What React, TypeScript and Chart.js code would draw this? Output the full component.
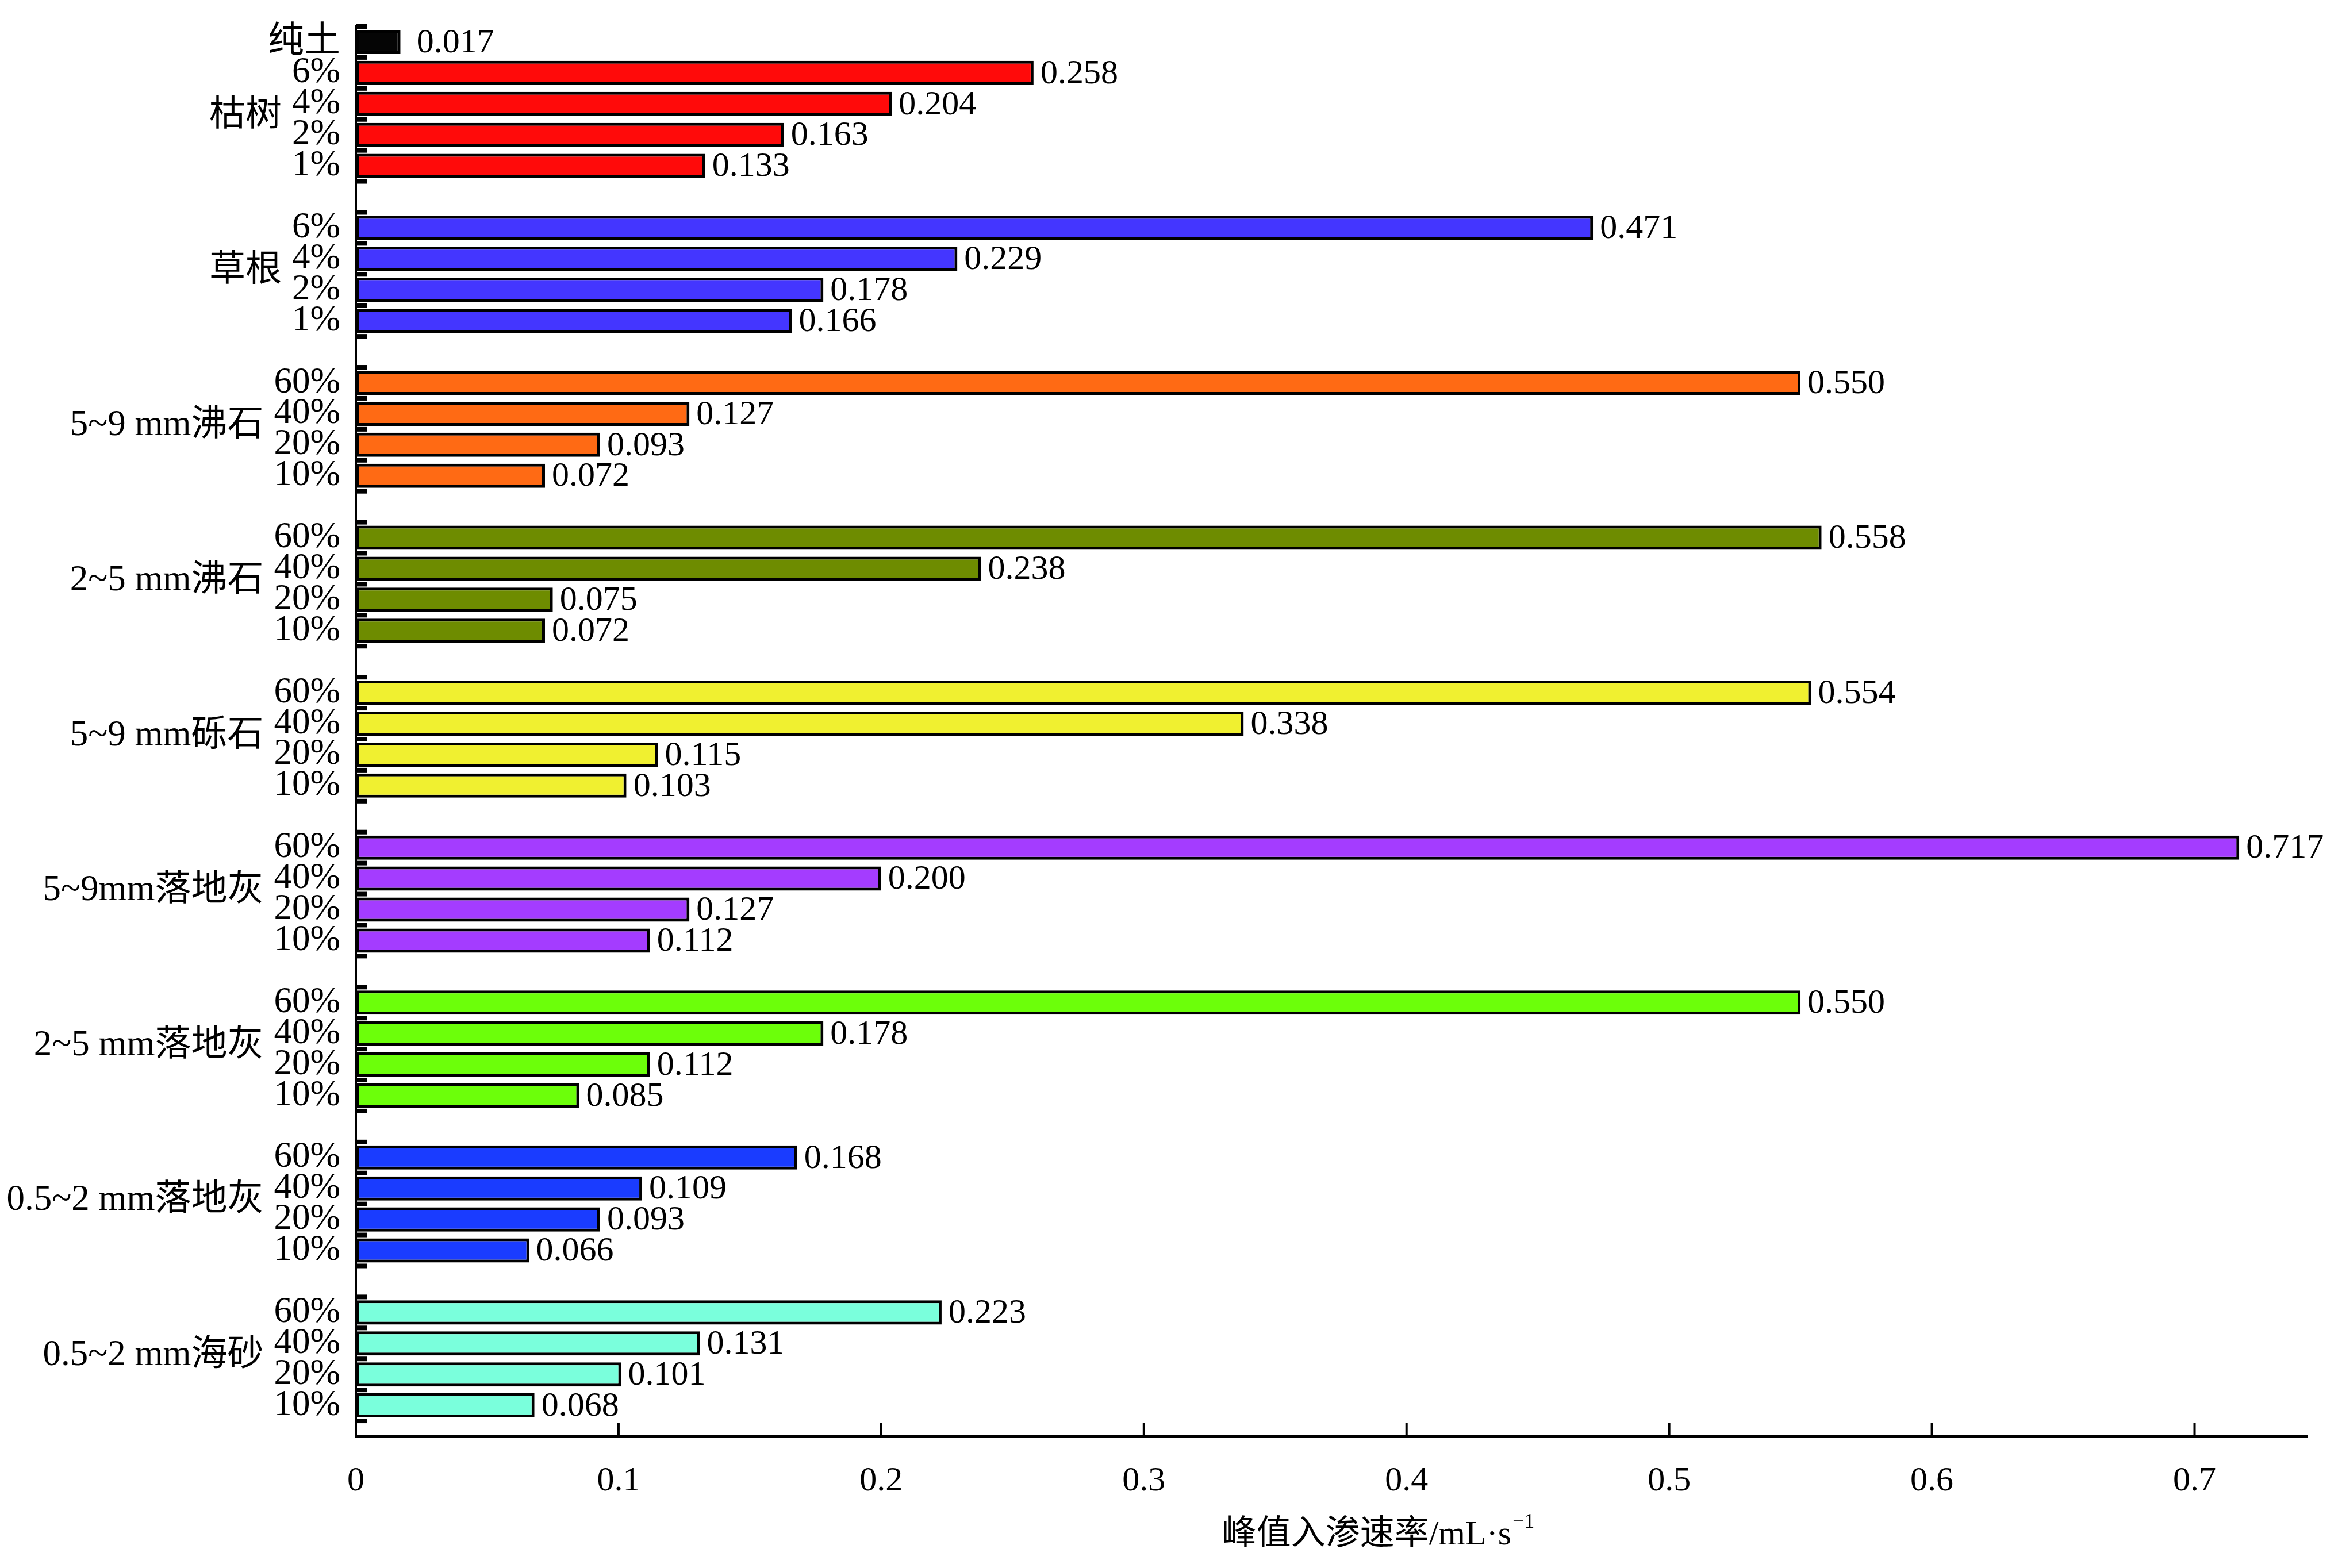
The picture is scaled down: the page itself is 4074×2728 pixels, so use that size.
import React, { useEffect, useRef } from "react";
import { Chart, registerables } from "chart.js";

Chart.register(...registerables);

// ---------- data ----------
const GROUP_NAMES = [
  "纯土",
  "枯树",
  "草根",
  "5~9 mm沸石",
  "2~5 mm沸石",
  "5~9 mm砾石",
  "5~9mm落地灰",
  "2~5 mm落地灰",
  "0.5~2 mm落地灰",
  "0.5~2 mm海砂",
];
const LEVELS_PURE = ["纯土"];
const LEVELS_ORGANIC = ["6%", "4%", "2%", "1%"];
const LEVELS_MINERAL = ["60%", "40%", "20%", "10%"];

const VALUES_PURE = [0.017];
const VALUES_KUSHU = [0.258, 0.204, 0.163, 0.133];
const VALUES_CAOGEN = [0.471, 0.229, 0.178, 0.166];
const VALUES_FEISHI_5_9 = [0.55, 0.127, 0.093, 0.072];
const VALUES_FEISHI_2_5 = [0.558, 0.238, 0.075, 0.072];
const VALUES_LISHI_5_9 = [0.554, 0.338, 0.115, 0.103];
const VALUES_LUODIHUI_5_9 = [0.717, 0.2, 0.127, 0.112];
const VALUES_LUODIHUI_2_5 = [0.55, 0.178, 0.112, 0.085];
const VALUES_LUODIHUI_05_2 = [0.168, 0.109, 0.093, 0.066];
const VALUES_HAISHA_05_2 = [0.223, 0.131, 0.101, 0.068];

const GROUP_COLORS = [
  "#050505",
  "#FF0A0A",
  "#4436FF",
  "#FF6A14",
  "#6E8C00",
  "#F0F030",
  "#A43CFF",
  "#6CFF0A",
  "#1A3CFF",
  "#7AFFDC",
];

const X_TICK_VALUES = [0, 0.1, 0.2, 0.3, 0.4, 0.5, 0.6, 0.7];
const X_TICK_LABELS = ["0", "0.1", "0.2", "0.3", "0.4", "0.5", "0.6", "0.7"];
const X_TITLE = "峰值入渗速率/mL·s";
const X_TITLE_SUP = "−1";

// ---------- derived ----------
const GROUP_LEVELS = [
  LEVELS_PURE,
  LEVELS_ORGANIC,
  LEVELS_ORGANIC,
  LEVELS_MINERAL,
  LEVELS_MINERAL,
  LEVELS_MINERAL,
  LEVELS_MINERAL,
  LEVELS_MINERAL,
  LEVELS_MINERAL,
  LEVELS_MINERAL,
];
const GROUP_VALUES = [
  VALUES_PURE,
  VALUES_KUSHU,
  VALUES_CAOGEN,
  VALUES_FEISHI_5_9,
  VALUES_FEISHI_2_5,
  VALUES_LISHI_5_9,
  VALUES_LUODIHUI_5_9,
  VALUES_LUODIHUI_2_5,
  VALUES_LUODIHUI_05_2,
  VALUES_HAISHA_05_2,
];

type Bar = { x: number; y: number };
const barData: Bar[] = [];
const barColors: string[] = [];
const slotLabels: Record<number, string> = {};
const groupSpans: { name: string; start: number; end: number; levels: string[] }[] = [];
let slotPtr = 0;
GROUP_NAMES.forEach((name, gi) => {
  const start = slotPtr;
  GROUP_VALUES[gi].forEach((v, i) => {
    barData.push({ x: v, y: slotPtr });
    barColors.push(GROUP_COLORS[gi]);
    slotLabels[slotPtr] = GROUP_LEVELS[gi][i];
    slotPtr++;
  });
  if (gi > 0) {
    groupSpans.push({ name, start, end: slotPtr - 1, levels: GROUP_LEVELS[gi] });
    slotPtr++;
  }
});
const LAST_SLOT = slotPtr - 2;
const Y_MAX = slotPtr - 1;

const FONT_FAMILY = '"Liberation Serif", "Times New Roman", "Noto Sans CJK SC", serif';
const FONT_SIZE = 60;
const Y_FONT_SIZE = 63;

const W = 4074;
const H = 2728;

const decorPlugin = {
  id: "decor",
  afterDatasetsDraw(chart: any) {
    const { ctx, chartArea } = chart;
    const xs = chart.scales.x;
    const ys = chart.scales.y;
    ctx.save();
    // inward ticks on y axis at slot boundaries
    ctx.fillStyle = "#000";
    for (let s = 0; s <= LAST_SLOT + 1; s++) {
      const py = ys.getPixelForValue(s - 0.5);
      ctx.fillRect(chartArea.left, py - 4, 20, 8);
    }
    // inward ticks on x axis
    ctx.strokeStyle = "#000";
    ctx.lineWidth = 4;
    X_TICK_VALUES.forEach((v) => {
      if (v === 0) return;
      const px = xs.getPixelForValue(v);
      ctx.beginPath();
      ctx.moveTo(px, chartArea.bottom);
      ctx.lineTo(px, chartArea.bottom - 24);
      ctx.stroke();
    });
    // value labels
    ctx.font = `${FONT_SIZE}px ${FONT_FAMILY}`;
    ctx.fillStyle = "#000";
    ctx.textAlign = "left";
    ctx.textBaseline = "middle";
    const meta = chart.getDatasetMeta(0);
    meta.data.forEach((el: any, i: number) => {
      const gap = i === 0 ? 28 : 12;
      ctx.fillText(barData[i].x.toFixed(3), el.x + gap, el.y + 2);
    });
    // group labels
    ctx.font = `${Y_FONT_SIZE}px ${FONT_FAMILY}`;
    ctx.textAlign = "right";
    groupSpans.forEach((g) => {
      const maxW = Math.max(...g.levels.map((l) => ctx.measureText(l).width));
      const xr = chartArea.left - 27 - maxW - 18;
      const py = ys.getPixelForValue((g.start + g.end) / 2) - 6;
      ctx.fillText(g.name, xr, py);
    });
    // x axis title with superscript
    ctx.font = `${FONT_SIZE}px ${FONT_FAMILY}`;
    const mainW = ctx.measureText(X_TITLE).width;
    ctx.font = `${Math.round(FONT_SIZE * 0.6)}px ${FONT_FAMILY}`;
    const supW = ctx.measureText(X_TITLE_SUP).width;
    const cx = (chartArea.left + chartArea.right) / 2 + 80;
    const startX = cx - (mainW + supW) / 2;
    const ty = chartArea.bottom + 172;
    ctx.textAlign = "left";
    ctx.font = `${FONT_SIZE}px ${FONT_FAMILY}`;
    ctx.fillText(X_TITLE, startX, ty);
    ctx.font = `${Math.round(FONT_SIZE * 0.6)}px ${FONT_FAMILY}`;
    ctx.fillText(X_TITLE_SUP, startX + mainW + 2, ty - 22);
    ctx.restore();
  },
};

export default function App() {
  const ref = useRef<HTMLCanvasElement | null>(null);
  useEffect(() => {
    if (!ref.current) return;
    const chart = new Chart(ref.current, {
      type: "bar",
      data: {
        datasets: [
          {
            data: barData as any,
            backgroundColor: barColors,
            borderColor: "#000",
            borderWidth: 5,
            borderSkipped: false,
            categoryPercentage: 1,
            barPercentage: 0.78,
          } as any,
        ],
      },
      options: {
        indexAxis: "y",
        animation: false,
        responsive: false,
        maintainAspectRatio: false,
        devicePixelRatio: 1,
        layout: { padding: { left: 0, right: 60, top: 46, bottom: 0 }, autoPadding: false },
        plugins: {
          legend: { display: false },
          tooltip: { enabled: false },
        },
        scales: {
          x: {
            type: "linear",
            min: 0,
            max: 0.743,
            grid: { display: false, drawTicks: false },
            border: { display: true, color: "#000", width: 5 },
            afterBuildTicks: (scale: any) => {
              scale.ticks = X_TICK_VALUES.map((v) => ({ value: v }));
            },
            afterFit: (scale: any) => {
              scale.height = H - 2499;
              scale.paddingLeft = 0;
              scale.paddingRight = 0;
            },
            ticks: {
              autoSkip: false,
              maxRotation: 0,
              padding: 42,
              color: "#000",
              font: { family: FONT_FAMILY, size: FONT_SIZE, lineHeight: 1.2 },
              callback: (_v: any, i: number) => X_TICK_LABELS[i],
            },
          },
          y: {
            type: "linear",
            reverse: true,
            offset: false,
            min: -0.5,
            max: Y_MAX,
            grid: { display: false, drawTicks: false, offset: false },
            border: { display: true, color: "#000", width: 4 },
            afterBuildTicks: (scale: any) => {
              const t = [];
              for (let s = 0; s <= LAST_SLOT; s++) t.push({ value: s });
              scale.ticks = t;
            },
            afterFit: (scale: any) => {
              scale.width = 619;
              scale.paddingTop = 0;
              scale.paddingBottom = 0;
            },
            ticks: {
              autoSkip: false,
              padding: 27,
              color: "#000",
              font: { family: FONT_FAMILY, size: Y_FONT_SIZE, lineHeight: 0.02 },
              callback: (v: any) => slotLabels[v as number] ?? "",
            },
          },
        },
      },
      plugins: [decorPlugin],
    });
    return () => chart.destroy();
  }, []);
  return (
    <div style={{ position: "fixed", left: 0, top: 0, width: W, height: H, background: "#fff" }}>
      <canvas ref={ref} width={W} height={H} style={{ width: W, height: H, display: "block" }} />
    </div>
  );
}
